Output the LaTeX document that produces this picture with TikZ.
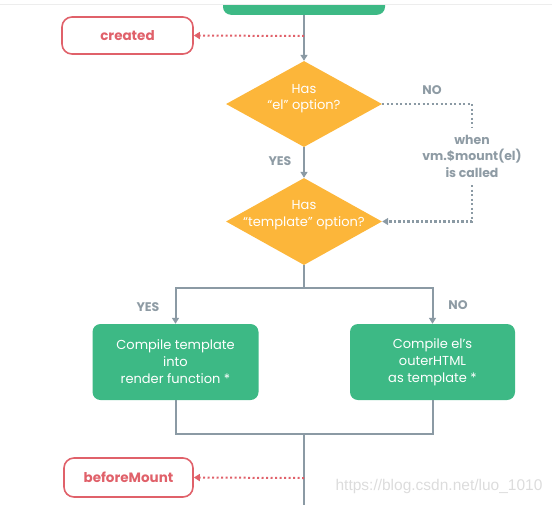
\documentclass[tikz,border=0pt]{standalone}
\usepackage{fontspec}
\setmainfont{Poppins}
\newfontfamily\wmfont{Liberation Sans}
\usetikzlibrary{arrows.meta,shapes.geometric}
\definecolor{vgreen}{HTML}{3DB985}
\definecolor{vorange}{HTML}{FCB63A}
\definecolor{vred}{HTML}{E0616A}
\definecolor{vgray}{HTML}{8B9AA4}
\definecolor{vlabel}{HTML}{8E9BA4}
\definecolor{wm}{HTML}{DCDCDC}
\begin{document}
\begin{tikzpicture}[x=1pt,y=-1pt,
  conn/.style={draw=vgray, line width=2pt},
  arr/.style={-{Triangle[width=7pt,length=6pt]}},
  dotg/.style={draw=vgray, line width=2.2pt, dash pattern=on 2.2pt off 2.3pt},
  dotr/.style={draw=vred!85, line width=2pt, dash pattern=on 2pt off 2.5pt},
  hook/.style={draw=vred, line width=1.6pt, rounded corners=10pt, minimum width=131pt, minimum height=37pt, inner sep=0pt, text=vred, font=\bfseries\fontsize{13.5}{16}\selectfont},
  dia/.style={diamond, fill=vorange, minimum width=156pt, minimum height=86pt, inner sep=0pt},
  diatext/.style={text=white, align=center, font=\fontsize{13}{16.5}\selectfont},
  gbox/.style={fill=vgreen, rounded corners=8pt, minimum width=166pt, minimum height=76pt, inner sep=0pt, text=white, align=center, font=\fontsize{13}{17}\selectfont},
  lab/.style={text=vlabel, font=\bfseries\fontsize{12.5}{16.5}\selectfont, align=center}]
\useasboundingbox (0,0) rectangle (554,504);
\draw[draw=black!7, line width=1pt] (0,4.5) -- (552,4.5);
\begin{scope}
\clip (0,5) rectangle (554,504);
\node[fill=vgreen, rounded corners=8pt, minimum width=162pt, minimum height=40pt, anchor=south] (init) at (304,15) {};
\end{scope}
\node[hook] (created) at (127.5,35.5) {created};
\node[dia] (d1) at (304,104) {};
\node[diatext] (t1) at (304,98.5) {Has\\“el” option?};
\node[dia, minimum height=87pt] (d2) at (304,221.5) {};
\node[diatext] (t2) at (304,215) {Has\\“template” option?};
\node[gbox] (lbox) at (175.5,362) {Compile template\\into\\render function *};
\node[gbox, minimum width=165pt] (rbox) at (432.5,362) {Compile el’s\\outerHTML\\as template *};
\node[hook, minimum width=129pt, minimum height=39pt] (bm) at (128.5,477.5) {beforeMount};
% connectors
\draw[conn,arr] (init.south) -- (d1.north);
\coordinate (h1) at (304,36);
\draw[dotr,-{Triangle[width=7pt,length=6pt]}, vred] (h1) -- (created.east);
\draw[conn,arr] (d1.south) -- (d2.north);
\coordinate (n1) at (472,128);
\draw[dotg] (d1.east) -| (n1);
\node[lab] (when) at (472,156) {when\\vm.\$mount(el)\\is called};
\coordinate (n2) at (472,185);
\draw[dotg,arr] (n2) |- (d2.east);
\coordinate (split) at (304,288);
\draw[conn] (d2.south) -- (split);
\draw[conn,arr] (split) -| (lbox.north);
\draw[conn,arr] (split) -| (rbox.north);
\coordinate (merge) at (304,434);
\draw[conn] (lbox.south) |- (merge);
\draw[conn] (rbox.south) |- (merge);
\coordinate (bottom) at (304,510);
\draw[conn] (merge) -- (bottom);
\coordinate (h2) at (304,478);
\draw[dotr,-{Triangle[width=7pt,length=6pt]}, vred] (h2) -- (bm.east);
% labels
\node[lab] (yes1) at (280,161) {YES};
\node[lab] (no1) at (432,90) {NO};
\node[lab] (yes2) at (148,307) {YES};
\node[lab] (no2) at (458,305) {NO};
\node[text=wm, font=\wmfont\fontsize{15.5}{18}\selectfont] (wmk) at (439,486) {https://blog.csdn.net/luo\_1010};
\end{tikzpicture}
\end{document}
